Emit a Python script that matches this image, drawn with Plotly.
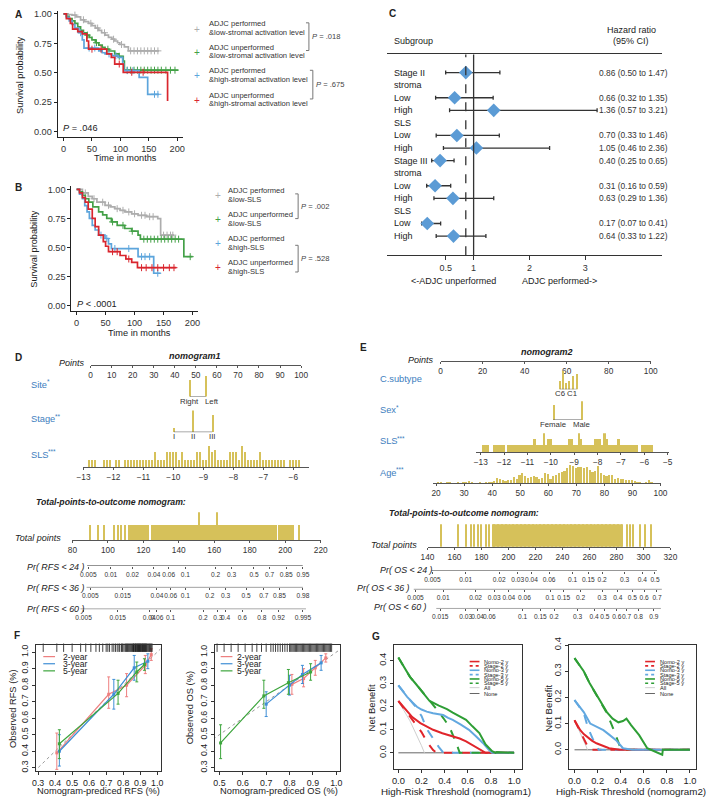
import plotly.graph_objects as go
import numpy as np

W, H = 709, 800
FONT = 'Liberation Sans, Arial, sans-serif'
YEL = '#D6C15A'
LBL = '#3E7EBE'
KM_COL = ['#ADADAD', '#43A047', '#5DA5DC', '#D9262E']

# ---------------- A: KM by stromal activation ----------------
a_gray_t = [0, 8, 15, 22, 30, 37, 44, 50, 56, 62, 67, 73, 79, 85, 90, 95, 99, 107, 114, 168]
a_gray_s = [1.0, 0.995, 0.99, 0.975, 0.95, 0.935, 0.92, 0.90, 0.88, 0.86, 0.84, 0.82, 0.80, 0.785, 0.77, 0.755, 0.74, 0.72, 0.686, 0.686]
a_green_t = [0, 5, 10, 15, 20, 25, 30, 35, 40, 45, 50, 56, 62, 68, 73, 80, 90, 97, 105, 107, 202]
a_green_s = [1.0, 0.98, 0.96, 0.94, 0.92, 0.89, 0.86, 0.84, 0.82, 0.80, 0.78, 0.755, 0.735, 0.715, 0.70, 0.685, 0.66, 0.64, 0.60, 0.522, 0.522]
a_blue_t = [0, 5, 10, 15, 20, 27, 33, 36, 62, 68, 73, 85, 96, 104, 106, 133, 148, 168]
a_blue_s = [1.0, 0.97, 0.94, 0.91, 0.88, 0.84, 0.78, 0.71, 0.686, 0.67, 0.66, 0.645, 0.63, 0.574, 0.518, 0.46, 0.317, 0.317]
a_red_t = [0, 5, 12, 16, 25, 33, 41, 44, 76, 84, 90, 105, 183, 183]
a_red_s = [1.0, 0.96, 0.92, 0.87, 0.85, 0.83, 0.77, 0.70, 0.66, 0.63, 0.574, 0.504, 0.504, 0.26]
a_gray_c = [20, 35, 48, 60, 72, 88, 102, 118, 124, 130, 136, 142, 148, 154, 160, 166]
a_green_c = [42, 58, 78, 98, 112, 118, 124, 130, 136, 142, 148, 154, 160, 166, 172, 180, 188, 196]
a_blue_c = [30, 45, 55, 80, 92, 112, 122, 160, 166]
a_red_c = [50, 66, 98, 120, 140]
a_legend = [('ADJC performed', '&low-stromal activation level'),
            ('ADJC unperformed', '&low-stromal activation level'),
            ('ADJC performed', '&high-stromal activation level'),
            ('ADJC unperformed', '&high-stromal activation level')]
a_pvals = ['.018', '.675']
a_p_all = '.046'

# ---------------- B: KM by SLS ----------------
b_gray_t = [0, 10, 20, 27, 35, 49, 58, 66, 75, 83, 95, 106, 120, 140, 145, 168]
b_gray_s = [1.0, 0.97, 0.94, 0.92, 0.89, 0.863, 0.85, 0.834, 0.82, 0.806, 0.79, 0.777, 0.765, 0.749, 0.606, 0.606]
b_green_t = [0, 5, 10, 15, 21, 28, 38, 45, 52, 60, 70, 83, 95, 106, 110, 185, 185, 200]
b_green_s = [1.0, 0.98, 0.95, 0.92, 0.89, 0.85, 0.806, 0.78, 0.75, 0.72, 0.69, 0.663, 0.64, 0.606, 0.571, 0.571, 0.42, 0.42]
b_blue_t = [0, 5, 10, 14, 18, 22, 27, 32, 38, 49, 55, 60, 106, 133, 145]
b_blue_s = [1.0, 0.96, 0.92, 0.86, 0.806, 0.75, 0.69, 0.65, 0.606, 0.577, 0.53, 0.49, 0.42, 0.277, 0.277]
b_red_t = [0, 5, 10, 15, 20, 27, 32, 38, 46, 50, 55, 75, 85, 95, 105, 172]
b_red_s = [1.0, 0.97, 0.93, 0.89, 0.83, 0.75, 0.68, 0.606, 0.549, 0.51, 0.463, 0.43, 0.40, 0.37, 0.325, 0.325]
b_gray_c = [15, 30, 45, 55, 70, 80, 90, 100, 112, 118, 126, 132, 150, 156, 162, 166]
b_green_c = [62, 80, 96, 116, 122, 128, 134, 140, 146, 152, 158, 164, 170, 176, 196]
b_blue_c = [42, 52, 66, 90, 112, 118, 126, 140]
b_red_c = [62, 70, 90, 112, 120, 130, 140, 150, 160, 168]
b_legend = [('ADJC performed', '&low-SLS'), ('ADJC unperformed', '&low-SLS'),
            ('ADJC performed', '&high-SLS'), ('ADJC unperformed', '&high-SLS')]
b_pvals = ['.002', '.528']
b_p_all = '< .0001'

# ---------------- C: forest plot ----------------
c_labels = ['Stage II', 'stroma', 'Low', 'High', 'SLS', 'Low', 'High',
            'Stage III', 'stroma', 'Low', 'High', 'SLS', 'Low', 'High']
c_hr = [0.86, None, 0.66, 1.36, None, 0.70, 1.05, 0.40, None, 0.31, 0.63, None, 0.17, 0.64]
c_lo = [0.50, None, 0.32, 0.57, None, 0.33, 0.46, 0.25, None, 0.16, 0.29, None, 0.07, 0.33]
c_hi = [1.47, None, 1.35, 3.21, None, 1.46, 2.36, 0.65, None, 0.59, 1.36, None, 0.41, 1.22]
c_overall = 0.86

# ---------------- D: nomogram1 ----------------
d_site = ['Right', 'Left']
d_site_pts = [47.2, 54.7]
d_site_n = [112, 140]
d_stage = ['I', 'II', 'III']
d_stage_pts = [39.6, 48.6, 57.8]
d_stage_n = [20, 110, 85]
d_sls_bins = np.round(np.arange(-12.8, -5.65, 0.1), 1)
d_sls_n = [1, 1, 1, 0, 0, 1, 1, 1, 0, 1, 1, 0, 1, 1, 1, 1, 1, 1, 1, 1, 1, 1,
           2, 1, 1, 1, 2, 2, 2, 2, 1, 2, 1, 1, 1, 1, 2, 2, 1, 1, 2.8, 2, 2.3,
           1, 1, 1, 1, 2, 2, 2, 1, 2.8, 2, 1, 1, 1, 1, 2, 1, 1, 1, 1, 1, 1, 1,
           1, 0, 1, 1, 1, 1, 0]
d_total_x = [90, 95, 98, 104, 106, 108, 110] + list(range(112, 124)) + list(range(125, 196)) + list(range(197, 206)) + [208]
d_total_tall = {152: 1.87, 162: 1.87}
d_pr_labels = ['Pr( RFS < 24 )', 'Pr( RFS < 36 )', 'Pr( RFS < 60 )']
d_pr_pts = [[89.0, 101.7, 113.9, 126.0, 134.3, 143.7, 160.8, 169.7, 182.4, 191.2, 200.6, 210.0],
            [90.1, 99.3, 108.4, 127.7, 135.4, 143.7, 157.5, 166.4, 178.0, 187.9, 196.8, 205.2, 210.0],
            [86.3, 98.4, 105.6, 117.7, 123.3, 127.7, 135.4, 153.7, 162.0, 166.4, 175.8, 186.8, 196.2, 203.4, 210.0]]
d_pr_text = [['0.005', '0.01', '0.02', '0.04', '0.06', '0.1', '0.2', '0.3', '0.5', '0.7', '0.85', '0.95'],
             ['0.005', '', '0.015', '0.04', '0.06', '0.1', '0.2', '0.3', '0.5', '0.7', '0.85', '', '0.98'],
             ['0.005', '', '0.015', '', '0.04', '0.06', '0.1', '0.2', '0.3', '0.4', '0.6', '0.8', '0.92', '', '0.995']]
d_pr_line = [(88.3, 209.9), (88.0, 210.0), (84.6, 211.7)]

# ---------------- E: nomogram2 ----------------
e_csub = ['C6', 'C5', 'C3', 'C4', 'C1', 'C2']
e_csub_pts = [56.8, 58.3, 59.6, 61.1, 62.7, 64.7]
e_csub_n = [9, 19, 6.4, 9, 14, 15.7]
e_sex = ['Female', 'Male']
e_sex_pts = [53.6, 67.0]
e_sex_n = [15, 19]
e_sls_bins = np.round(np.arange(-12.9, -5.65, 0.1), 1)
e_sls_n = [1, 1, 1, 0, 0, 1, 1, 1, 1, 1, 0, 1, 1, 1, 1, 1, 1, 1, 1, 1, 1, 1,
           2, 1, 1, 1, 2.85, 1, 2, 2, 1, 1, 1, 1, 1, 1, 1, 2, 2, 1, 1, 2.85, 2,
           1, 1, 1, 1, 1, 2, 2, 2, 1, 2.85, 2, 1, 1, 1, 1, 2, 1, 1, 1, 1, 1, 1,
           1, 1, 0, 1, 1, 1, 1, 1]
e_age = list(range(21, 98))
e_age_n = [5, 4, 0, 5, 4, 0, 0, 4, 0, 6, 6, 7, 5, 0, 0, 4, 0, 5, 4, 6,
           7, 17, 14, 12, 8, 11, 11, 20, 14, 27, 32, 24, 19, 22, 24, 20, 14, 17, 34, 30,
           14, 25, 27, 32, 37, 40, 47, 57, 54, 47, 52, 50, 47, 50, 42, 37, 40, 54, 34, 27,
           25, 26, 27, 14, 17, 14, 14, 10, 12, 10, 7, 5, 6, 0, 4, 12, 4]
e_total_x = [149.7, 162, 168.6, 172, 174.5, 177, 179.5, 183, 185] + list(range(188, 285)) + [287.3, 289.5, 292, 297, 300.6, 305.5]
e_pr_labels = ['Pr( OS < 24 )', 'Pr( OS < 36 )', 'Pr( OS < 60 )']
e_pr_pts = [[143.6, 168.3, 184.3, 193.1, 206.9, 217.0, 230.1, 247.6, 259.2, 269.4, 286.1, 299.2, 308.6],
            [131.1, 151.6, 167.4, 175.6, 189.4, 200.3, 211.9, 230.8, 241.0, 253.4, 269.4, 281.0, 291.9, 300.6, 310.1],
            [149.4, 158.9, 168.3, 177.1, 185.8, 210.5, 223.6, 233.8, 251.2, 263.5, 271.5, 280.3, 287.5, 296.2, 307.8]]
e_pr_text = [['0.005', '0.01', '', '0.02', '0.03', '0.04', '0.06', '0.1', '0.15', '0.2', '0.3', '0.4', '0.5'],
             ['0.005', '0.01', '', '0.02', '0.03', '0.04', '0.06', '0.1', '0.15', '0.2', '0.3', '0.4', '0.5', '0.6', '0.7'],
             ['0.015', '', '0.03', '0.04', '0.06', '0.1', '0.15', '0.2', '0.3', '0.4', '0.5', '0.6', '0.7', '0.8', '0.9']]
e_pr_line = [(142.9, 310.1), (129.8, 313.7), (146.5, 313.0)]

# ---------------- F: calibration ----------------
f_years = ['2-year', '3-year', '5-year']
f_cols = ['#EE7F7F', '#3F8FD6', '#3DA53D']
f_rfs_x = [[0.41, 0.715, 0.82, 0.93, 0.965], [0.425, 0.745, 0.865, 0.945], [0.425, 0.77, 0.88, 0.925]]
f_rfs_y = [[0.39, 0.745, 0.80, 0.92, 0.985], [0.40, 0.745, 0.905, 0.945], [0.445, 0.75, 0.88, 0.925]]
f_rfs_lo = [[0.29, 0.66, 0.73, 0.87, 0.95], [0.31, 0.655, 0.83, 0.90], [0.355, 0.685, 0.82, 0.89]]
f_rfs_hi = [[0.51, 0.85, 0.87, 0.98, 1.02], [0.50, 0.835, 0.98, 0.99], [0.53, 0.83, 0.94, 0.96]]
f_os_x = [[0.81, 0.86, 0.91, 0.955], [0.70, 0.80, 0.855, 0.935], [0.505, 0.69, 0.795, 0.89]]
f_os_y = [[0.805, 0.84, 0.905, 0.965], [0.685, 0.80, 0.865, 0.935], [0.45, 0.735, 0.815, 0.88]]
f_os_lo = [[0.745, 0.79, 0.86, 0.94], [0.61, 0.74, 0.81, 0.89], [0.355, 0.66, 0.745, 0.83]]
f_os_hi = [[0.865, 0.90, 0.95, 0.99], [0.76, 0.86, 0.92, 0.98], [0.56, 0.83, 0.895, 0.93]]
f_rug_rfs = [0.33, 0.41, 0.45, 0.50, 0.55, 0.58, 0.61, 0.64, 0.66, 0.68, 0.70, 0.71, 0.72, 0.735, 0.745,
             0.755, 0.765, 0.775, 0.78, 0.79, 0.795, 0.80, 0.81, 0.815, 0.82, 0.825, 0.83, 0.835, 0.84,
             0.845, 0.85, 0.855, 0.86, 0.862, 0.865, 0.87, 0.873, 0.876, 0.88, 0.883, 0.886, 0.89, 0.893,
             0.896, 0.90, 0.903, 0.906, 0.91, 0.913, 0.916, 0.92, 0.923, 0.926, 0.93, 0.933, 0.936, 0.94,
             0.945, 0.95, 0.955, 0.96, 0.965, 0.97]
f_rug_os = [0.49, 0.52, 0.55, 0.58, 0.61, 0.64, 0.66, 0.68, 0.70, 0.72, 0.73, 0.74, 0.75, 0.76, 0.77,
            0.78, 0.79, 0.80, 0.805, 0.81, 0.815, 0.82, 0.825, 0.83, 0.835, 0.84, 0.845, 0.85, 0.855,
            0.86, 0.865, 0.87, 0.875, 0.88, 0.885, 0.89, 0.895, 0.90, 0.905, 0.91, 0.915, 0.92, 0.925,
            0.93, 0.935, 0.94, 0.945, 0.95, 0.955, 0.96, 0.965, 0.97, 0.975, 0.98]

# ---------------- G: decision curves ----------------
g_names = ['Nomo-2 y', 'Stage-2 y', 'Nomo-3 y', 'Stage-3 y', 'Nomo-5 y', 'Stage-5 y', 'All', 'None']
g_cols = ['#E0252B', '#E0252B', '#62A8E0', '#62A8E0', '#2E9E35', '#2E9E35', '#CFCFCF', '#666666']
g_dash = ['solid', 'dash', 'solid', 'dash', 'solid', 'dash', 'solid', 'solid']
g1 = [
    ([0, 0.04, 0.08, 0.12, 0.19, 0.25, 0.30, 0.38, 0.47, 0.53, 0.585, 0.64, 0.70, 0.754, 1.0],
     [0.225, 0.20, 0.179, 0.155, 0.129, 0.112, 0.10, 0.085, 0.071, 0.062, 0.05, 0.033, 0.014, 0.0, 0.0]),
    ([0, 0.05, 0.1, 0.15, 0.2, 0.25, 0.3, 0.33, 1.0],
     [0.225, 0.19, 0.16, 0.125, 0.09, 0.045, 0.012, 0.0, 0.0]),
    ([0, 0.04, 0.076, 0.12, 0.16, 0.2, 0.245, 0.3, 0.387, 0.43, 0.47, 0.54, 0.61, 0.67, 0.73, 0.78, 0.81, 1.0],
     [0.293, 0.265, 0.243, 0.22, 0.2, 0.188, 0.179, 0.172, 0.164, 0.152, 0.143, 0.122, 0.10, 0.072, 0.043, 0.014, 0.0, 0.0]),
    ([0, 0.05, 0.1, 0.15, 0.2, 0.25, 0.3, 0.35, 0.39, 1.0],
     [0.293, 0.26, 0.23, 0.2, 0.16, 0.1, 0.06, 0.025, 0.0, 0.0]),
    ([0, 0.05, 0.1, 0.15, 0.2, 0.27, 0.35, 0.42, 0.47, 0.53, 0.585, 0.64, 0.70, 0.754, 0.81, 0.84, 0.85, 1.0],
     [0.414, 0.37, 0.33, 0.30, 0.27, 0.225, 0.205, 0.19, 0.175, 0.16, 0.143, 0.115, 0.086, 0.036, 0.007, 0.0, 0.003, 0.0]),
    ([0, 0.05, 0.1, 0.15, 0.2, 0.27, 0.33, 0.39, 0.44, 0.50, 0.53, 1.0],
     [0.414, 0.37, 0.33, 0.30, 0.27, 0.225, 0.19, 0.15, 0.114, 0.043, 0.0, 0.0]),
    ([0, 0.1, 0.2, 0.225], [0.225, 0.139, 0.031, 0.0]),
    ([0, 1.0], [0, 0]),
]
g2 = [
    ([0, 0.02, 0.05, 0.08, 0.108, 0.15, 0.19, 0.25, 0.30, 0.39, 1.0],
     [0.1125, 0.095, 0.075, 0.06, 0.05, 0.035, 0.025, 0.015, 0.006, 0.0, 0.0]),
    ([0, 0.03, 0.06, 0.1, 0.13, 1.0], [0.1125, 0.085, 0.06, 0.025, 0.0, 0.0]),
    ([0, 0.04, 0.08, 0.136, 0.2, 0.25, 0.3, 0.36, 0.42, 0.5, 1.0],
     [0.19, 0.165, 0.144, 0.10, 0.085, 0.075, 0.058, 0.037, 0.006, 0.0, 0.0]),
    ([0, 0.04, 0.08, 0.12, 0.17, 0.21, 1.0], [0.19, 0.165, 0.14, 0.08, 0.03, 0.0, 0.0]),
    ([0, 0.04, 0.08, 0.13, 0.19, 0.24, 0.28, 0.33, 0.38, 0.42, 0.45, 0.49, 0.56, 0.63, 0.70, 0.76, 0.765, 1.0],
     [0.35, 0.325, 0.30, 0.255, 0.21, 0.17, 0.144, 0.119, 0.105, 0.11, 0.119, 0.094, 0.056, 0.006, -0.006, -0.019, 0.0, 0.0]),
    ([0, 0.04, 0.08, 0.13, 0.19, 0.24, 0.28, 0.33, 0.39, 0.405, 1.0],
     [0.35, 0.325, 0.30, 0.255, 0.21, 0.17, 0.14, 0.087, 0.0125, 0.0, 0.0]),
    ([0, 0.05, 0.1, 0.112], [0.1125, 0.066, 0.014, 0.0]),
    ([0, 1.0], [0, 0]),
]

# =====================================================================
fig = go.Figure()
layout = {}
anns = []
shapes = []
count = [0]


def fx(p):
    return p / W


def fy(p):
    return 1 - p / H


def add_axes(x0, x1, y_top, y_bot, xa, ya):
    count[0] += 1
    s = '' if count[0] == 1 else str(count[0])
    base = dict(showgrid=False, zeroline=False, fixedrange=True, tickangle=0)
    layout['xaxis' + s] = {**base, 'domain': [fx(x0), fx(x1)], 'anchor': 'y' + s, **xa}
    layout['yaxis' + s] = {**base, 'domain': [fy(y_bot), fy(y_top)], 'anchor': 'x' + s, **ya}
    # empty trace so that every subplot gets drawn
    fig.add_trace(go.Scatter(x=[], y=[], xaxis='x' + s, yaxis='y' + s, hoverinfo='skip'))
    return 'x' + s, 'y' + s


def text(x, y, s, size=9, color='#222', xanchor='left', yanchor='middle', angle=0, xref='paper', yref='paper'):
    anns.append(dict(x=fx(x) if xref == 'paper' else x, y=fy(y) if yref == 'paper' else y,
                     xref=xref, yref=yref, text=s, showarrow=False, textangle=angle,
                     font=dict(size=size, color=color, family=FONT), xanchor=xanchor, yanchor=yanchor))


def var_label(x, y, name, stars, width):
    # variable name with its significance stars raised beside it
    text(x, y, name, size=9.3, color=LBL)
    if stars:
        text(x + width, y - 3, stars, size=6.5, color=LBL)


def seg(x0, y0, x1, y1, color='#555', width=1, dash='solid'):
    shapes.append(dict(type='line', xref='paper', yref='paper', x0=fx(x0), y0=fy(y0), x1=fx(x1), y1=fy(y1),
                       line=dict(color=color, width=width, dash=dash)))


def lin(pa, pb, va, vb):
    return lambda p: va + (p - pa) * (vb - va) / (pb - pa)


# ---------------- KM panels ----------------
def km_axes(x0, x1, yt, yb, xr, yr):
    xa = dict(range=xr, showline=True, linecolor='#222', linewidth=1, ticks='outside', ticklen=3,
              tickcolor='#222', tickvals=[0, 50, 100, 150, 200], tickfont=dict(size=9.2, color='#333'))
    ya = dict(range=yr, showline=True, linecolor='#222', linewidth=1, ticks='outside', ticklen=3,
              tickcolor='#222', tickvals=[0, 0.25, 0.5, 0.75, 1.0],
              ticktext=['0.00', '0.25', '0.50', '0.75', '1.00'], tickfont=dict(size=9.2, color='#333'))
    return add_axes(x0, x1, yt, yb, xa, ya)


def km_draw(xr, yr, curves):
    for (t, s, cen), col in zip(curves, KM_COL):
        fig.add_trace(go.Scatter(x=t, y=s, mode='lines', line=dict(color=col, width=1.7, shape='hv'),
                                 xaxis=xr, yaxis=yr, hoverinfo='skip'))
        ta, sa = np.array(t), np.array(s)
        idx = np.searchsorted(ta, cen, side='right') - 1
        fig.add_trace(go.Scatter(x=cen, y=sa[idx], mode='markers',
                                 marker=dict(symbol='cross-thin', size=5, line=dict(color=col, width=1)),
                                 xaxis=xr, yaxis=yr, hoverinfo='skip'))


def km_legend(px_plus, px_text, rows, entries, brackets, pvals):
    for (l1, l2), (y1, y2), col in zip(entries, rows, KM_COL):
        text(px_text, y1, l1, size=7.6, color='#333')
        text(px_text, y2, l2, size=7.6, color='#333')
        text(px_plus, (y1 + y2) / 2 + 1, '+', size=10, color=col, xanchor='center')
    for (bx, b0, b1), p in zip(brackets, pvals):
        seg(bx, b0, bx, b1, color='#777')
        seg(bx - 3, b0, bx, b0, color='#777')
        seg(bx - 3, b1, bx, b1, color='#777')
        text(bx + 1, (b0 + b1) / 2, '<i>P</i> = ' + p, size=7.6, color='#444')


xa_, ya_ = km_axes(51.7, 180, 3, 130, [-10.3, 210.9], [-0.042, 1.025])
km_draw(xa_, ya_, [(a_gray_t, a_gray_s, a_gray_c), (a_green_t, a_green_s, a_green_c),
                   (a_blue_t, a_blue_s, a_blue_c), (a_red_t, a_red_s, a_red_c)])
text(14, 68, 'Survival probability', size=9.2, color='#222', xanchor='center', angle=-90)
text(121, 152, 'Time in months', size=9.2, color='#222', xanchor='center')
text(55, 121, '<i>P</i> = ' + a_p_all, size=9.2, color='#222')
km_legend(194, 204, [(16, 24.5), (39.5, 48), (63, 72), (88, 97)], a_legend,
          [(308, 15, 43), (312, 63, 92)], a_pvals)

xb_, yb_ = km_axes(65.7, 195, 180, 306, [-9.0, 209.7], [-0.045, 1.03])
km_draw(xb_, yb_, [(b_gray_t, b_gray_s, b_gray_c), (b_green_t, b_green_s, b_green_c),
                   (b_blue_t, b_blue_s, b_blue_c), (b_red_t, b_red_s, b_red_c)])
text(28, 243, 'Survival probability', size=9.2, color='#222', xanchor='center', angle=-90)
text(135, 329, 'Time in months', size=9.2, color='#222', xanchor='center')
text(69, 299, '<i>P</i> ' + b_p_all, size=9.2, color='#222')
km_legend(215, 223, [(184.5, 193.5), (208.5, 217.5), (233, 242), (257, 266)], b_legend,
          [(297, 188, 213), (297, 240, 267)], b_pvals)

# ---------------- C forest ----------------
xc, yc = add_axes(388, 668, 47, 250,
                  dict(range=[-0.544, 4.368], showline=True, mirror=True, linecolor='#333', linewidth=1.4,
                       ticks='outside', ticklen=4, tickcolor='#333', tickvals=[0.5, 1, 2, 3],
                       ticktext=['0.5', '1', '2', '3'], tickfont=dict(size=9, color='#333')),
                  dict(range=[14.52, -1.44], visible=False))
rows = list(range(len(c_labels)))
idx = [i for i in rows if c_hr[i] is not None]
hr = np.array([c_hr[i] for i in idx])
lo = np.array([c_lo[i] for i in idx])
hi = np.array([c_hi[i] for i in idx])
shapes.append(dict(type='line', xref=xc, yref=yc + ' domain', x0=1, x1=1, y0=0, y1=1,
                   line=dict(color='#333', width=1.3)))
shapes.append(dict(type='line', xref=xc, yref=yc + ' domain', x0=c_overall, x1=c_overall, y0=0, y1=1,
                   line=dict(color='#333', width=1.3, dash='dash')))
fig.add_trace(go.Scatter(x=hr, y=idx, mode='markers', xaxis=xc, yaxis=yc, cliponaxis=False,
                         marker=dict(symbol='diamond', size=10.5, color='#5B9BD5'),
                         error_x=dict(type='data', array=hi - hr, arrayminus=hr - lo, color='#333',
                                      thickness=1.3, width=2)))
for i in rows:
    text(393, i, c_labels[i], size=9, color='#222', yref=yc)
for i in idx:
    text(602, i, f'{c_hr[i]:.2f} ({c_lo[i]:.2f} to {c_hi[i]:.2f})', size=8.4, color='#333', yref=yc)
text(388, 6, '<b>C</b>', size=10)
text(393, 33, 'Subgroup', size=9)
text(637, 22, 'Hazard ratio', size=9, xanchor='center')
text(637, 33, '(95% CI)', size=9, xanchor='center')
text(455, 276, '<-ADJC unperformed', size=9, xanchor='center')
text(564, 276, 'ADJC performed->', size=9, xanchor='center')


# ---------------- nomograms ----------------
def num_axis(rng, tickvals, ticktext=None, showline=True, size=8.3):
    d = dict(range=rng, showline=showline, linecolor='#555', linewidth=1, ticks='outside', ticklen=2,
             tickcolor='#555', tickfont=dict(size=size, color='#333'))
    if ticktext is None:
        d['tickvals'] = tickvals
    else:
        d['tickvals'] = [v for v, t in zip(tickvals, ticktext) if t]
        d['ticktext'] = [t for t in ticktext if t]
    return d


def row(px0, px1, xa, base, height, ymax):
    return add_axes(px0, px1, base - height, base, xa, dict(range=[0, ymax], visible=False))


def bars(xr, yr, x, y, width):
    fig.add_trace(go.Bar(x=x, y=y, width=width, marker=dict(color=YEL, line=dict(width=0)),
                         xaxis=xr, yaxis=yr, hoverinfo='skip'))


def tick_marks(xr, yr, xs, ymax, height):
    # small downward ticks below a baseline drawn at y = 0
    if len(xs):
        fig.add_trace(go.Scatter(x=xs, y=[-ymax * 1.5 / height] * len(xs), mode='markers', xaxis=xr, yaxis=yr,
                                 cliponaxis=False, hoverinfo='skip',
                                 marker=dict(symbol='line-ns', size=3, line=dict(color='#555', width=1))))


def cat_row(pts_px, names, pts, counts, base, height, label_dy, width, anchors):
    xr, yr = row(pts_px[0], pts_px[1], dict(range=[0, 100], showline=False, showticklabels=False),
                 base, height, max(counts))
    bars(xr, yr, pts, counts, width)
    fig.add_trace(go.Scatter(x=[min(pts), max(pts)], y=[0, 0], mode='lines', line=dict(color='#555', width=1),
                             xaxis=xr, yaxis=yr, cliponaxis=False, hoverinfo='skip'))
    tick_marks(xr, yr, pts, max(counts), height)
    for n, p, a in zip(names, pts, anchors):
        if n:
            anns.append(dict(x=p, y=fy(base + label_dy), xref=xr, yref='paper', text=n, showarrow=False,
                             font=dict(size=7.8, color='#333', family=FONT), xanchor=a, yanchor='middle',
                             xshift=-3 if a == 'left' else 0))


def pr_rows(tp_map, px_lo, px_hi, bases, pts, txt, lines):
    rng = [tp_map(px_lo), tp_map(px_hi)]
    for b, p, t, ln in zip(bases, pts, txt, lines):
        xr, yr = row(px_lo, px_hi, num_axis(rng, p, t, showline=False, size=6.6), b, 2, 1)
        fig.add_trace(go.Scatter(x=list(ln), y=[0, 0], mode='lines', line=dict(color='#555', width=1),
                                 xaxis=xr, yaxis=yr, cliponaxis=False, hoverinfo='skip'))
        tick_marks(xr, yr, [v for v, s in zip(p, t) if not s], 1, 2)


# D
text(6, 353, '<b>D</b>', size=10)
text(192, 352, '<b><i>nomogram1</i></b>', size=9, xanchor='center')
text(66, 359, '<i>Points</i>', size=9, xanchor='center')
row(85.3, 300, num_axis([0, 100], list(range(0, 101, 10))), 360.7, 3, 1)
var_label(22, 381, 'Site', '*', 16.5)
cat_row((85.3, 300), d_site, d_site_pts, d_site_n, 393, 21, 4.5, 0.6, ['center', 'left'])
var_label(22, 416, 'Stage', '**', 25)
cat_row((85.3, 300), d_stage, d_stage_pts, d_stage_n, 429, 22, 4.5, 0.6, ['center'] * 3)
var_label(22, 452, 'SLS', '***', 18)
xr, yr = row(78, 308.3, num_axis([-13, -5.47], list(range(-13, -5))), 464.3, 21.7, 2.8)
bars(xr, yr, d_sls_bins, d_sls_n, 0.085)
text(28, 500, '<b><i>Total-points-to-outcome nomogram:</i></b>', size=8.7)
text(32, 536, '<i>Total points</i>', size=9, xanchor='center')
xr, yr = row(66.7, 320, num_axis([80, 220], list(range(80, 221, 20))), 538, 28, 1.87)
bars(xr, yr, d_total_x, [d_total_tall.get(v, 1) for v in d_total_x], 0.8)
tp1 = lin(66.7, 320, 80, 220)
for lab, b in zip(d_pr_labels, [565, 586.5, 608]):
    text(81, b, '<i>' + lab + '</i>', size=8.9, xanchor='right')
pr_rows(tp1, 60, 330, [564, 586, 608], d_pr_pts, d_pr_text, d_pr_line)

# E
text(358, 343, '<b>E</b>', size=10)
text(551, 348, '<b><i>nomogram2</i></b>', size=9, xanchor='center')
text(422, 356, '<i>Points</i>', size=9, xanchor='center')
row(442.3, 656.7, num_axis([0, 100], list(range(0, 101, 20))), 357, 3, 1)
var_label(378, 375, 'C.subtype', '', 0)
cat_row((442.3, 656.7), [n if n in ('C6', 'C1') else '' for n in e_csub], e_csub_pts, e_csub_n,
        385.7, 19, 4.5, 0.55, ['center'] * 6)
var_label(378, 407, 'Sex', '*', 16.5)
cat_row((442.3, 656.7), e_sex, e_sex_pts, e_sex_n, 416.7, 19, 5, 0.55, ['center', 'center'])
var_label(378, 438, 'SLS', '***', 18)
xr, yr = row(478.3, 675, num_axis([-13.21, -4.96], list(range(-13, -4))), 449, 19, 2.85)
bars(xr, yr, e_sls_bins, e_sls_n, 0.085)
var_label(378, 470, 'Age', '***', 17)
xr, yr = row(435, 666.7, num_axis([19.06, 100], list(range(20, 101, 10))), 480.7, 19, 57)
bars(xr, yr, e_age, e_age_n, 0.6)
text(388, 511, '<b><i>Total-points-to-outcome nomogram:</i></b>', size=8.7)
text(394.5, 543, '<i>Total points</i>', size=9, xanchor='center')
xr, yr = row(429, 676.7, num_axis([140, 320], list(range(140, 321, 20))), 545, 23, 1)
bars(xr, yr, e_total_x, [1] * len(e_total_x), 0.9)
tp2 = lin(429, 676.7, 140, 320)
for lab, b, xe in zip(e_pr_labels, [568, 586.5, 605.5], [437, 413, 431]):
    text(xe, b, '<i>' + lab + '</i>', size=8.9, xanchor='right')
pr_rows(tp2, 405, 690, [569.3, 588, 607.3], e_pr_pts, e_pr_text, e_pr_line)


# ---------------- F calibration ----------------
def box_axes(x0, x1, yt, yb, xr, xt, yr, yt_vals, size=8.8):
    xa = dict(range=xr, showline=True, mirror=True, linecolor='#333', linewidth=1, ticks='outside',
              ticklen=3, tickcolor='#333', tickvals=xt, ticktext=[f'{v:.1f}' for v in xt],
              tickfont=dict(size=size, color='#222'))
    ya = dict(range=yr, showline=True, mirror=True, linecolor='#333', linewidth=1, ticks='outside',
              ticklen=3, tickcolor='#333', tickvals=yt_vals, ticktext=[f'{v:.1f}' for v in yt_vals],
              tickangle=-90, tickfont=dict(size=size, color='#222'))
    return add_axes(x0, x1, yt, yb, xa, ya)


def calib(xr, yr, xs, ys, los, his, rug, rug_y):
    fig.add_trace(go.Scatter(x=[0.2, 1.1], y=[0.2, 1.1], mode='lines', xaxis=xr, yaxis=yr,
                             line=dict(color='#9A9A9A', width=1, dash='dot'), hoverinfo='skip'))
    for x, y, l, h, col in zip(xs, ys, los, his, f_cols):
        x, y, l, h = map(np.array, (x, y, l, h))
        fig.add_trace(go.Scatter(x=x, y=y, mode='lines+markers', xaxis=xr, yaxis=yr, cliponaxis=False,
                                 line=dict(color=col, width=1.2),
                                 marker=dict(symbol='square', size=3, color=col),
                                 error_y=dict(type='data', array=h - y, arrayminus=y - l, color=col,
                                              thickness=1, width=1.5), hoverinfo='skip'))
    fig.add_trace(go.Scatter(x=rug, y=[rug_y] * len(rug), mode='markers', xaxis=xr, yaxis=yr,
                             cliponaxis=False, hoverinfo='skip',
                             marker=dict(symbol='line-ns', size=6, line=dict(color='#111', width=0.8))))


text(5, 635, '<b>F</b>', size=10)
xr, yr = box_axes(29.3, 156.7, 644.3, 771.7, [0.286, 1.02], [0.3, 0.4, 0.5, 0.6, 0.7, 0.8, 0.9, 1.0],
                  [0.28, 1.043], [0.3, 0.4, 0.5, 0.6, 0.7, 0.8, 0.9, 1.0])
calib(xr, yr, f_rfs_x, f_rfs_y, f_rfs_lo, f_rfs_hi, f_rug_rfs, 1.027)
xr, yr = box_axes(211.7, 340, 644.3, 771.7, [0.479, 1.017], [0.5, 0.6, 0.7, 0.8, 0.9, 1.0],
                  [0.28, 1.043], [0.3, 0.4, 0.5, 0.6, 0.7, 0.8, 0.9, 1.0])
calib(xr, yr, f_os_x, f_os_y, f_os_lo, f_os_hi, f_rug_os, 1.027)
for lx, tx in [(37, 55), (218, 233)]:
    for k, (name, col) in enumerate(zip(f_years, f_cols)):
        yy = 656 + 7.2 * k
        seg(lx, yy, lx + 12, yy, color=col, width=1.2)
        text(tx, yy, name, size=8.6, color='#222')
text(6, 708, 'Observed RFS (%)', size=9.3, xanchor='center', angle=-90)
text(187, 708, 'Observed OS (%)', size=9.3, xanchor='center', angle=-90)
text(93, 792, 'Nomogram-prediced RFS (%)', size=9.3, xanchor='center')
text(277, 792, 'Nomogram-prediced OS (%)', size=9.3, xanchor='center')

# ---------------- G decision curves ----------------
text(370, 636, '<b>G</b>', size=10)
gx = [0, 0.2, 0.4, 0.6, 0.8, 1.0]
for (x0, x1, xrng, yrng, curves, ytitle_x, leg_x, title) in [
        (395, 525.7, [-0.036, 1.071], [-0.0717, 0.468], g1, 371.7, 472, 'High-Risk Threshold (nomogram1)'),
        (573.3, 703.3, [-0.048, 1.056], [-0.0746, 0.40], g2, 551.7, 651, 'High-Risk Threshold (nomogram2)')]:
    xr, yr = box_axes(x0, x1, 644.3, 770, xrng, gx, yrng, [0.0, 0.1, 0.2, 0.3, 0.4], size=9.3)
    order = [7, 6, 1, 3, 5, 0, 2, 4]
    for k in order:
        t, nb = curves[k]
        w = 1 if k >= 6 else 2
        fig.add_trace(go.Scatter(x=t, y=nb, mode='lines', xaxis=xr, yaxis=yr, hoverinfo='skip',
                                 line=dict(color=g_cols[k], width=w, dash=g_dash[k])))
    for k, name in enumerate(g_names):
        yy = 661 + 4.4 * k + (1.5 if k == 7 else 0)
        seg(leg_x, yy, leg_x + 10, yy, color=g_cols[k], width=1.6 if k < 6 else 1,
            dash='dot' if g_dash[k] == 'dash' else 'solid')
        text(leg_x + 13, yy, name, size=5.6, color='#222')
    text(ytitle_x, 708, 'Net Benefit', size=9.5, xanchor='center', angle=-90)
    text((x0 + x1) / 2 - 2, 792, title, size=9.8, xanchor='center')

text(6, 7, '<b>A</b>', size=10)
text(6, 182, '<b>B</b>', size=10)

fig.update_layout(**layout)
fig.update_layout(width=W, height=H, autosize=False, margin=dict(l=0, r=0, t=0, b=0),
                  showlegend=False, plot_bgcolor='white', paper_bgcolor='white',
                  font=dict(family=FONT, color='#222'), annotations=anns, shapes=shapes,
                  bargap=0)
fig.write_html('out.html', config={'displayModeBar': False},
               post_script="document.body.style.margin='0';document.body.style.overflow='hidden';")
